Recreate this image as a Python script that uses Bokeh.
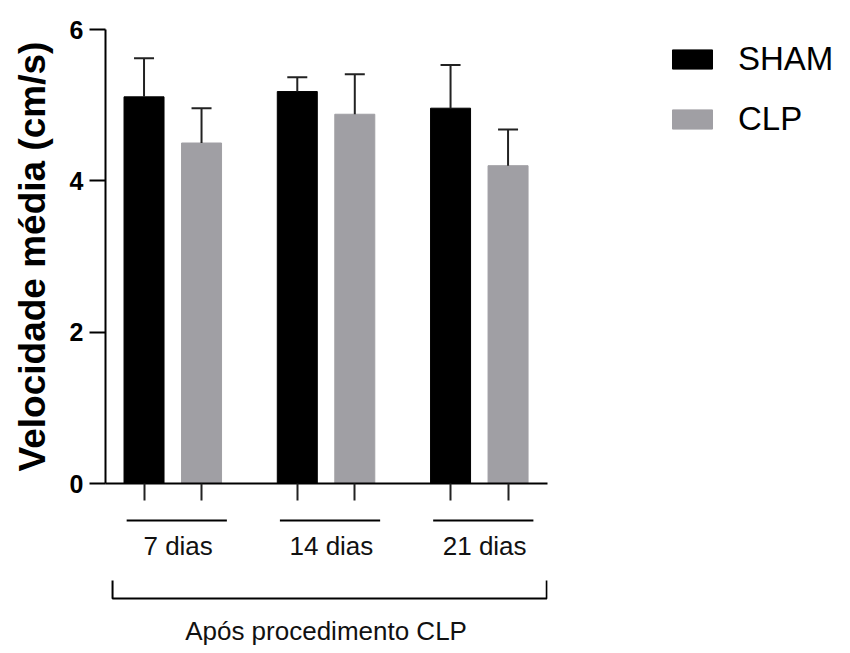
import numpy as np
from bokeh.plotting import figure
from bokeh.models import (Range1d, FixedTicker, ColumnDataSource, Whisker, TeeHead,
                          Legend, LegendItem)
from bokeh.layouts import column
from bokeh.core.properties import value
from bokeh.embed import file_html
from bokeh.resources import INLINE

# ---- data ----
groups = ["7 dias", "14 dias", "21 dias"]
series = ["SHAM", "CLP"]
sham_mean = [5.11, 5.18, 4.96]
sham_err = [0.51, 0.19, 0.57]
clp_mean = [4.50, 4.88, 4.20]
clp_err = [0.46, 0.53, 0.48]
y_ticks = [0, 2, 4, 6]
y_label = "Velocidade média (cm/s)"
x_title = "Após procedimento CLP"

# ---- style ----
FONT = "Liberation Sans"
SHAM_COLOR = "#000000"
CLP_COLOR = "#a09fa4"
DODGE = 0.1876
BAR_W = 0.261
W = 842
BH = 142

gx = np.arange(len(groups), dtype=float)

src_sham = ColumnDataSource(dict(x=gx - DODGE, top=sham_mean,
                                 upper=np.array(sham_mean) + np.array(sham_err)))
src_clp = ColumnDataSource(dict(x=gx + DODGE, top=clp_mean,
                                upper=np.array(clp_mean) + np.array(clp_err)))

p = figure(width=W, height=503, frame_width=442, frame_height=454,
           x_range=Range1d(-0.439, 2.445), y_range=Range1d(0, 6),
           output_backend="svg", toolbar_location=None,
           min_border_left=105, min_border_right=W - 547, min_border_top=29, min_border_bottom=20)
p.outline_line_color = None
p.xgrid.visible = False
p.ygrid.visible = False

r_sham = p.vbar(x="x", top="top", bottom=0, width=BAR_W, source=src_sham,
                fill_color=SHAM_COLOR, line_color=SHAM_COLOR)
r_clp = p.vbar(x="x", top="top", bottom=0, width=BAR_W, source=src_clp,
               fill_color=CLP_COLOR, line_color=CLP_COLOR)

for src in (src_sham, src_clp):
    w = Whisker(base="x", lower="top", upper="upper", source=src,
                line_color="#222222", line_width=2, level="overlay",
                upper_head=TeeHead(size=20, line_color="#222222", line_width=2),
                lower_head=None)
    p.add_layout(w)

# y axis
ya = p.yaxis[0]
ya.ticker = FixedTicker(ticks=y_ticks)
ya.axis_label = y_label
ya.axis_label_text_font = FONT
ya.axis_label_text_font_style = "bold"
ya.axis_label_text_font_size = "37px"
ya.axis_label_text_color = "black"
ya.axis_label_standoff = 14
ya.major_label_text_font = FONT
ya.major_label_text_font_style = "bold"
ya.major_label_text_font_size = "25px"
ya.major_label_text_color = "black"
ya.major_label_standoff = 6
ya.major_tick_out = 16
ya.major_tick_in = 0
ya.minor_tick_line_color = None
ya.axis_line_width = 2
ya.major_tick_line_width = 2
ya.axis_line_color = "black"
ya.major_tick_line_color = "black"

# x axis: ticks under each bar, no labels
xa = p.xaxis[0]
xa.ticker = FixedTicker(ticks=list(np.concatenate([gx - DODGE, gx + DODGE])))
xa.major_label_text_font_size = "0px"
xa.major_label_standoff = 0
xa.major_tick_out = 17
xa.major_tick_in = 0
xa.minor_tick_line_color = None
xa.axis_line_width = 2
xa.major_tick_line_width = 2
xa.axis_line_color = "black"
xa.major_tick_line_color = "#222222"

legend = Legend(items=[LegendItem(label=series[0], renderers=[r_sham]),
                       LegendItem(label=series[1], renderers=[r_clp])],
                location=(120, 345))
legend.glyph_width = 50
legend.glyph_height = 24
legend.label_text_font = FONT
legend.label_text_font_size = "33px"
legend.label_text_color = "black"
legend.label_standoff = 21
legend.spacing = 22
legend.padding = 0
legend.margin = 0
legend.border_line_alpha = 0
legend.background_fill_alpha = 0
p.add_layout(legend, "right")

# ---- bottom panel: group labels, bracket and title ----
b = figure(width=W, height=BH, frame_width=442, frame_height=BH,
           x_range=p.x_range, y_range=Range1d(BH, 0),
           output_backend="svg", toolbar_location=None,
           min_border_left=105, min_border_right=W - 547, min_border_top=0, min_border_bottom=0)
b.outline_line_color = None
b.xaxis.visible = False
b.yaxis.visible = False
b.xgrid.visible = False
b.ygrid.visible = False

gsrc = ColumnDataSource(dict(x0=gx - 0.301, x1=gx + 0.353, lx=gx + 0.035, name=groups))
b.segment(x0="x0", y0=17, x1="x1", y1=17, source=gsrc, line_color="black", line_width=2)
b.text(x="lx", y=42, text="name", source=gsrc, text_font=value(FONT),
       text_font_size="26px", text_align="center", text_baseline="middle", text_color="#111111")

bl, br = -0.393, 2.44
b.line(x=[bl, bl, br, br], y=[77, 95, 95, 77], line_color="black", line_width=2)
b.text(x=[gx.mean()], y=[127], text=[x_title], text_font=value(FONT),
       text_font_size="26px", text_align="center", text_baseline="middle", text_color="#111111")

layout = column(p, b, spacing=0)
open("out.html", "w").write(file_html(layout, INLINE))
